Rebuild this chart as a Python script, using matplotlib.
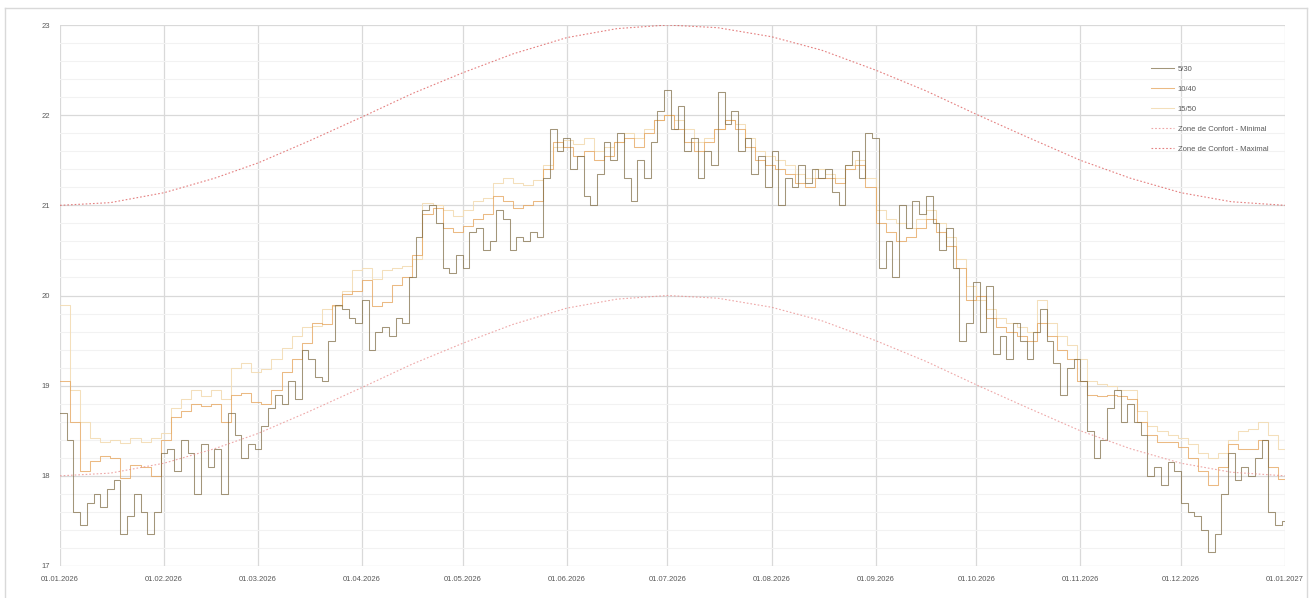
import matplotlib
matplotlib.use("Agg")
import matplotlib.pyplot as plt
import matplotlib.dates as mdates
import numpy as np
import pandas as pd

plt.rcParams['font.family'] = ['Liberation Sans Narrow', 'Liberation Sans', 'DejaVu Sans']

# ================= DATA =================
# 5/30 : one value every 2 days from 01.01.2026
serie_5_30 = [
    18.7, 18.4, 17.6, 17.45, 17.7, 17.8, 17.65, 17.85, 17.95, 17.35,
    17.55, 17.8, 17.6, 17.35, 17.6, 18.25, 18.3, 18.05, 18.4, 18.25,
    17.8, 18.35, 18.1, 18.3, 17.8, 18.7, 18.45, 18.2, 18.35, 18.3,
    18.55, 18.75, 18.9, 18.8, 19.05, 18.85, 19.4, 19.3, 19.1, 19.05,
    19.5, 19.9, 19.85, 19.75, 19.7, 19.95, 19.4, 19.6, 19.65, 19.55,
    19.75, 19.7, 20.2, 20.65, 20.95, 21.0, 20.8, 20.3, 20.25, 20.45,
    20.3, 20.7, 20.75, 20.5, 20.6, 20.95, 20.85, 20.5, 20.65, 20.6,
    20.7, 20.65, 21.3, 21.85, 21.6, 21.75, 21.4, 21.55, 21.1, 21.0,
    21.35, 21.7, 21.5, 21.8, 21.3, 21.05, 21.5, 21.3, 21.7, 22.05,
    22.28, 21.85, 22.1, 21.6, 21.75, 21.3, 21.6, 21.45, 22.26, 21.9,
    22.05, 21.6, 21.75, 21.35, 21.55, 21.2, 21.6, 21.0, 21.3, 21.2,
    21.45, 21.25, 21.4, 21.3, 21.4, 21.15, 21.0, 21.45, 21.6, 21.3,
    21.8, 21.75, 20.3, 20.6, 20.2, 21.0, 20.75, 21.05, 20.9, 21.1,
    20.8, 20.5, 20.75, 20.3, 19.5, 19.7, 20.15, 19.6, 20.1, 19.35,
    19.55, 19.3, 19.7, 19.5, 19.3, 19.6, 19.85, 19.5, 19.25, 18.9,
    19.2, 19.3, 19.05, 18.5, 18.2, 18.4, 18.75, 18.95, 18.6, 18.8,
    18.6, 18.45, 18.0, 18.1, 17.9, 18.15, 18.05, 17.7, 17.6, 17.55,
    17.4, 17.15, 17.35, 17.8, 18.25, 17.95, 18.1, 18.0, 18.2, 18.4,
    17.6, 17.45, 17.5,
]

# 10/40 : one value every 3 days
serie_10_40 = [
    19.05, 18.6, 18.05, 18.17, 18.22, 18.2, 17.98, 18.12, 18.1, 18.0,
    18.4, 18.65, 18.72, 18.8, 18.77, 18.8, 18.6, 18.9, 18.92, 18.82,
    18.8, 18.95, 19.15, 19.3, 19.47, 19.7, 19.68, 19.9, 20.02, 20.05,
    20.17, 19.88, 19.93, 20.12, 20.2, 20.45, 20.9, 20.97, 20.75, 20.7,
    20.77, 20.85, 20.9, 21.1, 21.05, 20.97, 21.0, 21.05, 21.4, 21.7,
    21.65, 21.55, 21.6, 21.5, 21.55, 21.7, 21.75, 21.65, 21.8, 21.95,
    22.0, 21.85, 21.7, 21.6, 21.7, 21.85, 21.95, 21.85, 21.65, 21.5,
    21.45, 21.4, 21.35, 21.25, 21.2, 21.3, 21.3, 21.25, 21.4, 21.45,
    21.2, 20.8, 20.7, 20.6, 20.65, 20.75, 20.85, 20.7, 20.55, 20.3,
    19.95, 20.0, 19.75, 19.65, 19.6, 19.55, 19.5, 19.7, 19.55, 19.4,
    19.3, 19.05, 18.9, 18.88, 18.9, 18.88, 18.85, 18.6, 18.45, 18.38,
    18.38, 18.32, 18.2, 18.05, 17.9, 18.1, 18.35, 18.3, 18.3, 18.4,
    18.1, 17.97,
]

# 15/50 : one value every 3 days
serie_15_50 = [
    19.9, 18.95, 18.6, 18.42, 18.38, 18.4, 18.36, 18.42, 18.38, 18.42,
    18.48, 18.75, 18.85, 18.95, 18.88, 18.95, 18.85, 19.2, 19.25, 19.15,
    19.18, 19.3, 19.42, 19.55, 19.65, 19.66, 19.85, 19.88, 20.05, 20.28,
    20.3, 20.18, 20.28, 20.3, 20.33, 20.4, 21.03, 21.0, 20.95, 20.88,
    20.95, 21.05, 21.08, 21.25, 21.3, 21.25, 21.22, 21.28, 21.45, 21.65,
    21.72, 21.68, 21.75, 21.6, 21.65, 21.7, 21.8, 21.75, 21.85, 21.95,
    22.0, 21.95, 21.85, 21.7, 21.75, 21.85, 21.95, 21.9, 21.75, 21.6,
    21.55, 21.5, 21.45, 21.35, 21.3, 21.4, 21.35, 21.3, 21.45, 21.5,
    21.3, 20.95, 20.85, 20.8, 20.75, 20.85, 20.95, 20.8, 20.65, 20.4,
    20.1, 19.95, 19.85, 19.75, 19.7, 19.65, 19.6, 19.95, 19.7, 19.55,
    19.45, 19.3, 19.05, 19.02, 19.0, 18.95, 18.95, 18.72, 18.55, 18.5,
    18.45, 18.42, 18.35, 18.25, 18.2, 18.25, 18.4, 18.5, 18.52, 18.6,
    18.45, 18.3,
]

# comfort zone, 1st and 16th of each month
confort_dates = [
    "2026-01-01", "2026-01-16", "2026-02-01", "2026-02-16", "2026-03-01", "2026-03-16",
    "2026-04-01", "2026-04-16", "2026-05-01", "2026-05-16", "2026-06-01", "2026-06-16",
    "2026-07-01", "2026-07-16", "2026-08-01", "2026-08-16", "2026-09-01", "2026-09-16",
    "2026-10-01", "2026-10-16", "2026-11-01", "2026-11-16", "2026-12-01", "2026-12-16",
    "2027-01-01",
]
confort_min = [
    18.00, 18.03, 18.14, 18.30, 18.47, 18.71, 18.98, 19.24, 19.47, 19.68, 19.86, 19.96,
    20.00, 19.97, 19.87, 19.72, 19.50, 19.27, 19.01, 18.76, 18.50, 18.30, 18.14, 18.04,
    18.00,
]
confort_max = [
    21.00, 21.03, 21.14, 21.30, 21.47, 21.71, 21.98, 22.24, 22.47, 22.68, 22.86, 22.96,
    23.00, 22.97, 22.87, 22.72, 22.50, 22.27, 22.01, 21.76, 21.50, 21.30, 21.14, 21.04,
    21.00,
]

START = pd.Timestamp("2026-01-01")
END = pd.Timestamp("2027-01-01")


def step_xy(values, freq):
    dates = pd.date_range(START, periods=len(values), freq=freq)
    x = list(dates) + [END]
    y = list(values) + [values[-1]]
    return x, y


# ================= FIGURE =================
W, H = 1313, 598
fig = plt.figure(figsize=(W / 100, H / 100), dpi=100)
ax = fig.add_axes([60 / W, 1 - 566 / H, (1285 - 60) / W, (566 - 25) / H])

# chart border
fig.add_artist(plt.Line2D([4.5 / W, 4.5 / W], [0, 1 - 8 / H], transform=fig.transFigure,
                          color="#d9d9d9", lw=1))
fig.add_artist(plt.Line2D([4.5 / W, 1307 / W], [1 - 8 / H, 1 - 8 / H], transform=fig.transFigure,
                          color="#d9d9d9", lw=1))
fig.add_artist(plt.Line2D([1307 / W, 1307 / W], [0, 1 - 8 / H], transform=fig.transFigure,
                          color="#d9d9d9", lw=1))

# ================= SERIES =================
x, y = step_xy(serie_5_30, "2D")
ax.step(x, y, where="post", color="#7d6a42", lw=0.75, alpha=0.7, label="5/30", zorder=4)

x, y = step_xy(serie_10_40, "3D")
ax.step(x, y, where="post", color="#e5a35a", lw=0.75, alpha=0.75, label="10/40", zorder=3)

x, y = step_xy(serie_15_50, "3D")
ax.step(x, y, where="post", color="#f3dcb4", lw=0.75, alpha=0.9, label="15/50", zorder=2)

cd = pd.to_datetime(confort_dates)
ax.plot(cd, confort_min, color="#e88a8a", lw=0.8, ls=(0, (1.5, 1.8)), alpha=0.75,
        label="Zone de Confort - Minimal", zorder=5)
ax.plot(cd, confort_max, color="#d94a4a", lw=0.8, ls=(0, (1.5, 1.8)), alpha=0.7,
        label="Zone de Confort - Maximal", zorder=5)

# ================= AXES =================
ax.set_xlim(START, END)
ax.set_ylim(17, 23)

ax.xaxis.set_major_locator(mdates.MonthLocator())
ax.xaxis.set_major_formatter(mdates.DateFormatter("%d.%m.%Y"))
ax.set_yticks(np.arange(17, 23.01, 1))
ax.set_yticks(np.arange(17, 23.01, 0.2), minor=True)

ax.grid(True, which="major", axis="both", color="#d9d9d9", lw=0.9, zorder=0)
ax.grid(True, which="minor", axis="y", color="#f2f2f2", lw=0.8, zorder=0)
ax.set_axisbelow(True)

for s in ax.spines.values():
    s.set_visible(False)

ax.tick_params(axis="both", which="both", length=0, labelsize=5.5, labelcolor="#595959")
ax.tick_params(axis="x", pad=7)
ax.tick_params(axis="y", pad=7)

# ================= LEGEND =================
ax.legend(loc="upper left", bbox_to_anchor=(1147 / W, 1 - 62 / H),
          bbox_transform=fig.transFigure, frameon=False, fontsize=5.5,
          labelcolor="#595959", handlelength=3.0, handletextpad=0.5,
          labelspacing=1.65, borderpad=0)

fig.savefig("out.png", dpi=100)
